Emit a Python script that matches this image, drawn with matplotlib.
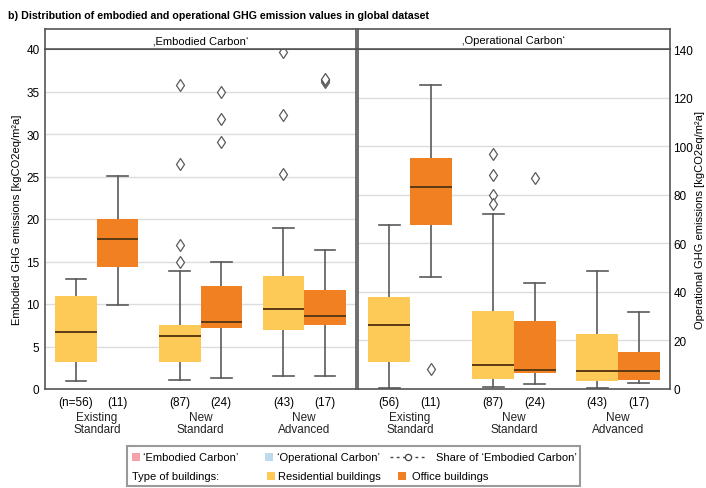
import matplotlib
matplotlib.use('Agg')
import matplotlib.pyplot as plt
from matplotlib.patches import Rectangle
from matplotlib.lines import Line2D

plt.rcParams['font.family'] = ['Liberation Sans', 'DejaVu Sans']

# groups on the x axis
groups = ['Existing\nStandard', 'New\nStandard', 'New\nAdvanced']
counts_emb = ['(n=56)', '(11)', '(87)', '(24)', '(43)', '(17)']
counts_op = ['(56)', '(11)', '(87)', '(24)', '(43)', '(17)']

# embodied carbon [kgCO2eq/m2a] - residential
emb_res_lo = [1.0, 1.1, 1.5]
emb_res_q1 = [3.2, 3.2, 6.9]
emb_res_med = [6.7, 6.2, 9.4]
emb_res_q3 = [11.0, 7.5, 13.3]
emb_res_hi = [13.0, 13.9, 18.9]
emb_res_out = [[], [35.8, 26.5, 16.9, 15.0], [39.6, 32.2, 25.3]]
# embodied carbon - office
emb_off_lo = [9.9, 1.3, 1.5]
emb_off_q1 = [14.4, 7.2, 7.5]
emb_off_med = [17.6, 7.9, 8.6]
emb_off_q3 = [20.0, 12.1, 11.6]
emb_off_hi = [25.1, 14.9, 16.3]
emb_off_out = [[], [35.0, 31.8, 29.1], [36.1, 36.3, 36.5]]

# operational carbon [kgCO2eq/m2a] - residential
op_res_lo = [0.5, 0.8, 0.3]
op_res_q1 = [11.1, 4.2, 3.3]
op_res_med = [26.4, 10.0, 7.6]
op_res_q3 = [37.7, 32.1, 22.6]
op_res_hi = [67.6, 71.9, 48.6]
op_res_out = [[], [96.6, 88.2, 79.7, 76.3], []]
# operational carbon - office
op_off_lo = [46.1, 1.9, 2.6]
op_off_q1 = [67.5, 6.6, 3.7]
op_off_med = [83.2, 8.0, 7.3]
op_off_q3 = [95.3, 27.8, 15.1]
op_off_hi = [125.0, 43.8, 31.8]
op_off_out = [[8.3], [86.8], []]

RES = '#fdc957'
OFF = '#f18022'
MED = '#5b3a14'
LINE = '#5a5a5a'
SPINE = '#555555'
GRID = '#dcdcdc'

W, H = 706, 489


def rect(x0, y0, x1, y1):
    # pixel box -> figure fraction
    return [x0 / W, 1 - y1 / H, (x1 - x0) / W, (y1 - y0) / H]


def make_stats(lo, q1, med, q3, hi, out):
    return [dict(whislo=lo[i], q1=q1[i], med=med[i], q3=q3[i], whishi=hi[i],
                 fliers=out[i]) for i in range(len(med))]


def draw_boxes(ax, stats, positions, color):
    bp = ax.bxp(stats, positions=positions, widths=0.4, capwidths=0.2,
                patch_artist=True, showfliers=True, manage_ticks=False,
                boxprops=dict(facecolor=color, edgecolor=color, linewidth=0),
                whiskerprops=dict(color=LINE, linewidth=1.2),
                capprops=dict(color=LINE, linewidth=1.2),
                medianprops=dict(color=MED, linewidth=1.4),
                flierprops=dict(marker='d', markersize=6, markerfacecolor='white',
                                markeredgecolor=LINE, markeredgewidth=0.9))
    for b in bp['boxes']:
        b.set_zorder(3)
    for m in bp['medians']:
        m.set_zorder(4)


def style_panel(ax, ymax, step, counts):
    ax.set_xlim(-0.5, 2.5)
    ax.set_ylim(0, ymax)
    ax.set_yticks(range(0, ymax + 1, step))
    ax.grid(axis='y', color=GRID, linewidth=1, zorder=0)
    ax.set_axisbelow(True)
    pos = [g + d for g in range(3) for d in (-0.2, 0.2)]
    ax.set_xticks(pos)
    ax.set_xticklabels(counts, fontsize=8.5)
    ax.tick_params(axis='x', length=0, pad=5)
    ax.tick_params(axis='y', length=0, labelsize=8.5, pad=4)
    for s in ax.spines.values():
        s.set_color(SPINE)
        s.set_linewidth(1.2)
    for g, name in enumerate(groups):
        ax.text(g, -0.064, name, transform=ax.get_xaxis_transform(), ha='center',
                va='top', fontsize=8.5, color='#222222', linespacing=1.05)


def header(rc, text):
    hx = fig.add_axes(rc)
    hx.set_xticks([])
    hx.set_yticks([])
    for s in hx.spines.values():
        s.set_color(SPINE)
        s.set_linewidth(1.2)
    hx.text(0.5, 0.45, text, ha='center', va='center', fontsize=8)


fig = plt.figure(figsize=(W / 100, H / 100), dpi=100)

fig.text(8 / W, 1 - 16 / H, 'b) Distribution of embodied and operational GHG emission values in global dataset',
         fontsize=7.7, fontweight='bold', va='center', ha='left')

res_pos = [0 - 0.2, 1 - 0.2, 2 - 0.2]
off_pos = [0 + 0.2, 1 + 0.2, 2 + 0.2]

# embodied carbon panel
ax1 = fig.add_axes(rect(45, 50, 356, 390))
draw_boxes(ax1, make_stats(emb_res_lo, emb_res_q1, emb_res_med, emb_res_q3, emb_res_hi, emb_res_out), res_pos, RES)
draw_boxes(ax1, make_stats(emb_off_lo, emb_off_q1, emb_off_med, emb_off_q3, emb_off_hi, emb_off_out), off_pos, OFF)
style_panel(ax1, 40, 5, counts_emb)
ax1.set_ylabel('Embodied GHG emissions [kgCO2eq/m²a]', fontsize=8, labelpad=3)
header(rect(45, 30, 356, 50), '\u201aEmbodied Carbon\u2018')

# operational carbon panel
ax2 = fig.add_axes(rect(358, 50, 670, 390))
draw_boxes(ax2, make_stats(op_res_lo, op_res_q1, op_res_med, op_res_q3, op_res_hi, op_res_out), res_pos, RES)
draw_boxes(ax2, make_stats(op_off_lo, op_off_q1, op_off_med, op_off_q3, op_off_hi, op_off_out), off_pos, OFF)
style_panel(ax2, 140, 20, counts_op)
ax2.tick_params(axis='y', pad=2.5)
ax2.yaxis.tick_right()
ax2.yaxis.set_label_position('right')
ax2.set_ylabel('Operational GHG emissions [kgCO2eq/m²a]', fontsize=8, labelpad=1)
header(rect(358, 30, 670, 50), '\u201aOperational Carbon\u2018')


# legend drawn by hand below the panels
def fx(x):
    return x / W


def fy(y):
    return 1 - y / H


fig.add_artist(Rectangle((fx(127), fy(487)), fx(580) - fx(127), fy(447) - fy(487),
                         transform=fig.transFigure, facecolor='white',
                         edgecolor='#9a9a9a', linewidth=1.5))


def swatch(x, y, color):
    fig.add_artist(Rectangle((fx(x), fy(y + 4)), 8 / W, 8 / H,
                             transform=fig.transFigure, facecolor=color,
                             edgecolor='none'))


leg_fs = 8
r1, r2 = 458, 477
swatch(132, r1, '#f4a3ab')
fig.text(fx(143), fy(r1), '\u2018Embodied Carbon\u2019', fontsize=leg_fs, va='center')
swatch(265, r1, '#bcd9ee')
fig.text(fx(277), fy(r1), '\u2018Operational Carbon\u2019', fontsize=leg_fs, va='center')
fig.add_artist(Line2D([fx(390), fx(427)], [fy(r1), fy(r1)], transform=fig.transFigure,
                      color='#444444', linestyle=(0, (2, 2.5)), linewidth=1))
fig.add_artist(Line2D([fx(408)], [fy(r1)], transform=fig.transFigure, linestyle='none',
                      marker='o', markersize=4.5, markerfacecolor='white',
                      markeredgecolor='#444444', markeredgewidth=0.9))
fig.text(fx(436), fy(r1), 'Share of \u2018Embodied Carbon\u2019', fontsize=leg_fs, va='center')

fig.text(fx(132), fy(r2), 'Type of buildings:', fontsize=leg_fs, va='center')
swatch(267, r2, RES)
fig.text(fx(278), fy(r2), 'Residential buildings', fontsize=leg_fs, va='center')
swatch(398, r2, OFF)
fig.text(fx(412), fy(r2), 'Office buildings', fontsize=leg_fs, va='center')

fig.savefig('out.png', dpi=100)
